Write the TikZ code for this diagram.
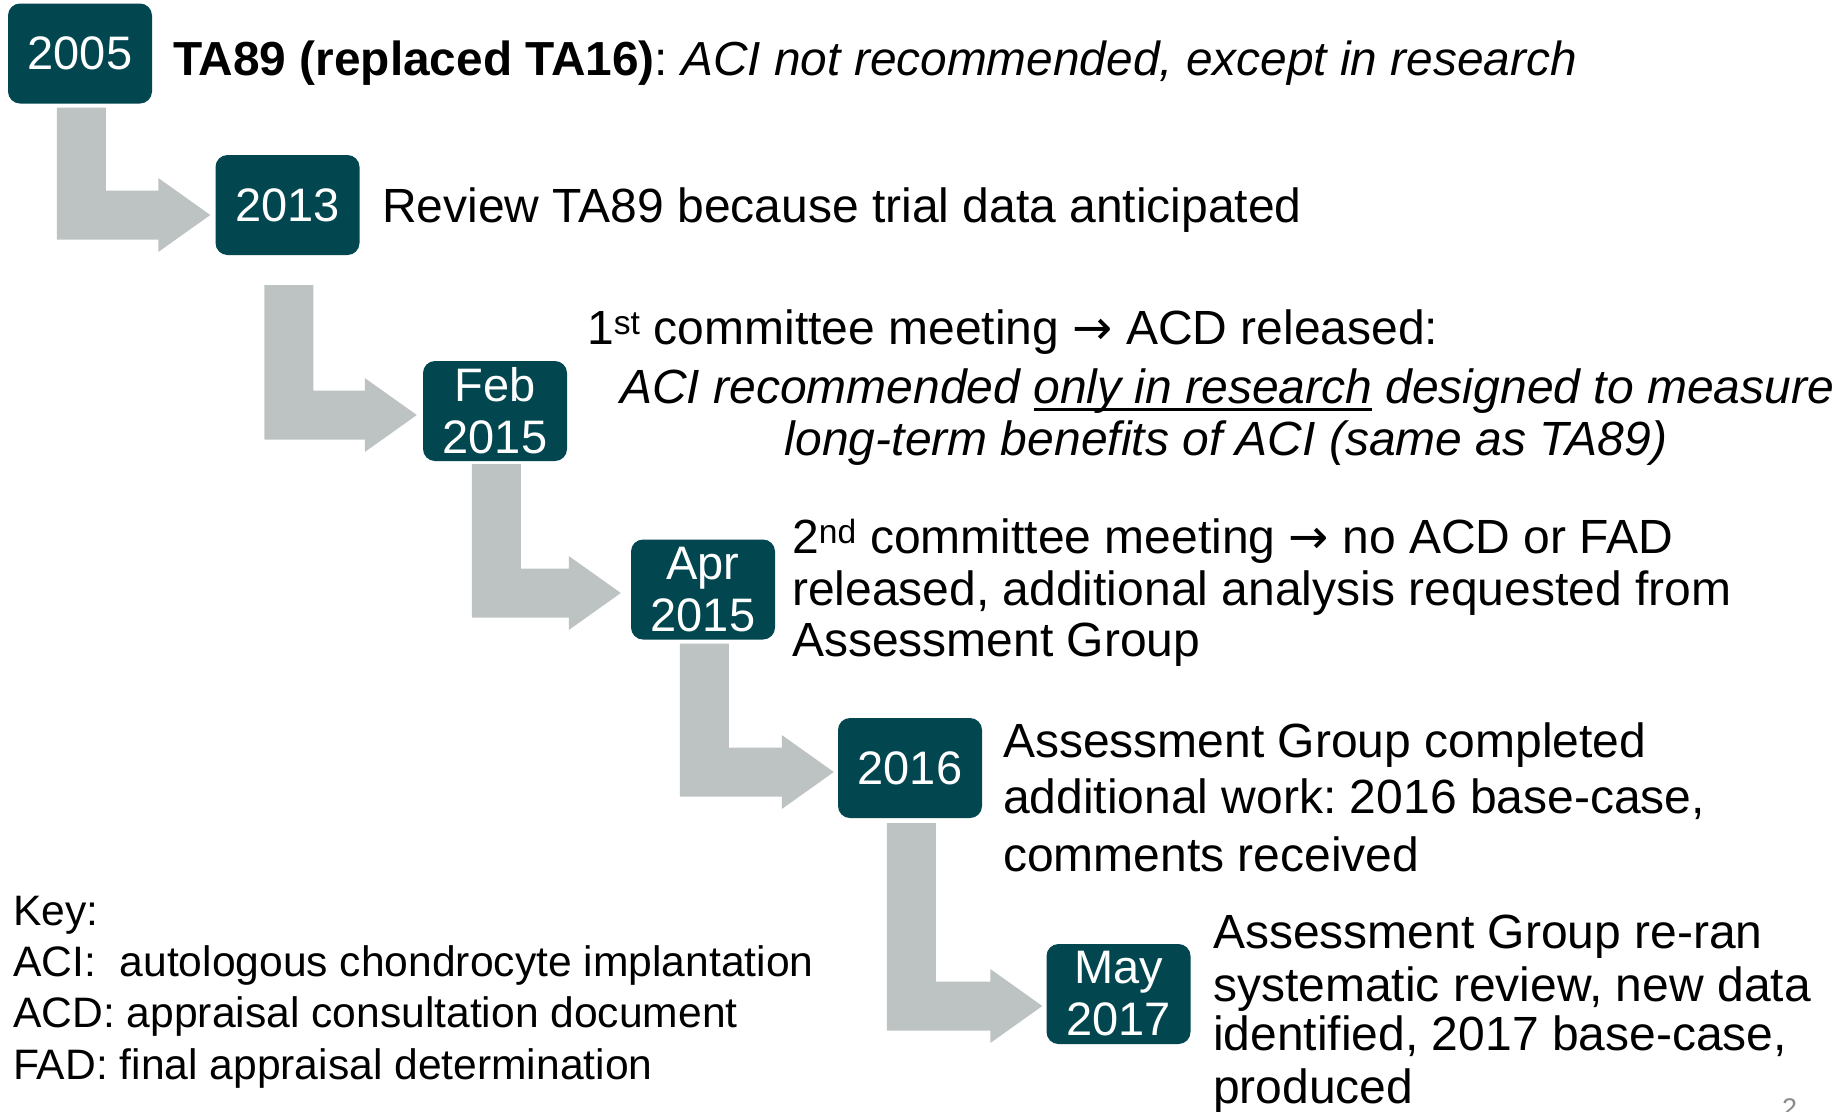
\documentclass[tikz,border=0pt]{standalone}
\usepackage{fontspec}
\setmainfont{Liberation Sans}
\newfontfamily\arrowfont{DejaVu Sans}
\usetikzlibrary{calc}
\frenchspacing

\definecolor{boxteal}{HTML}{02474F}
\definecolor{arrowgrey}{HTML}{BDC3C2}
\definecolor{pagegrey}{HTML}{8A8A8A}

% arrow sign used inside the event texts
\newcommand\thenarrow{{\arrowfont →}}
% underline with a heavier rule
\newcommand\thickul[1]{\setbox0\hbox{#1}\rlap{\rule[-8pt]{\wd0}{2.8pt}}\box0\relax}

\tikzset{
  datebox/.style={fill=boxteal, rounded corners=12pt, minimum width=144pt,
    minimum height=100pt, inner sep=0pt, text=white, align=center,
    font=\fontsize{47}{52}\selectfont},
  bodytext/.style={anchor=base west, inner sep=0pt,
    font=\fontsize{48}{52}\selectfont},
  keytext/.style={anchor=base west, inner sep=0pt,
    font=\fontsize{42.6}{51}\selectfont},
}

% Bent block arrow: #1 source box, #2 target box, #3 gap below source,
% #4 drop of the tip below the target's centre line, #5 gap before target
\newcommand\steparrow[5]{%
  \fill[arrowgrey] let \p1=(#1.south west), \p2=(#2.west) in
    (\x1+49pt,\y1-#3pt) -- (\x1+98pt,\y1-#3pt)
    -- (\x1+98pt,\y2-#4pt+24.5pt) -- (\x2-#5pt-52pt,\y2-#4pt+24.5pt)
    -- (\x2-#5pt-52pt,\y2-#4pt+37pt) -- (\x2-#5pt,\y2-#4pt)
    -- (\x2-#5pt-52pt,\y2-#4pt-37pt) -- (\x2-#5pt-52pt,\y2-#4pt-24.5pt)
    -- (\x1+49pt,\y2-#4pt-24.5pt) -- cycle;}

\begin{document}
\begin{tikzpicture}[x=1pt,y=-1pt]
  \useasboundingbox (0,0) rectangle (1846,1111);

  % date boxes
  \node[datebox] (b2005) at (80,53.5)    {2005};
  \node[datebox] (b2013) at (287.5,205)  {2013};
  \node[datebox] (bfeb)  at (495,411)    {Feb\\2015};
  \node[datebox] (bapr)  at (703,589.5)  {Apr\\2015};
  \node[datebox] (b2016) at (910,768)    {2016};
  \node[datebox] (bmay)  at (1118.5,994) {May\\2017};

  % step arrows between consecutive dates
  \steparrow{b2005}{b2013}{4}{10}{5}
  \steparrow{b2013}{bfeb}{30}{4}{6}
  \steparrow{bfeb}{bapr}{3}{3.5}{10}
  \steparrow{bapr}{b2016}{4}{4}{4}
  \steparrow{b2016}{bmay}{5}{12}{4}

  % event descriptions
  \node[bodytext, font=\fontsize{47.8}{52}\selectfont] (t1) at (173,75)
    {\textbf{TA89 (replaced TA16)}: \textit{ACI not recommended, except in research}};
  \node[bodytext] (t2) at (382,222) {Review TA89 because trial data anticipated};

  \node[bodytext] (t3a) at (587,344)
    {1\textsuperscript{st} committee meeting \thenarrow{} ACD released:};
  \node[bodytext, anchor=base] (t3b) at (1227,403)
    {\textit{ACI recommended \thickul{only in research} designed to measure}};
  \node[bodytext, anchor=base] (t3c) at (1226,455)
    {\textit{long-term benefits of ACI (same as TA89)}};

  \node[bodytext] (t4a) at (792,553)
    {2\textsuperscript{nd} committee meeting \thenarrow{} no ACD or FAD};
  \node[bodytext] (t4b) at (792,605) {released, additional analysis requested from};
  \node[bodytext] (t4c) at (792,656) {Assessment Group};

  \node[bodytext] (t5a) at (1003,757) {Assessment Group completed};
  \node[bodytext] (t5b) at (1003,813) {additional work: 2016 base-case,};
  \node[bodytext] (t5c) at (1003,871) {comments received};

  \node[bodytext] (t6a) at (1213,948)  {Assessment Group re-ran};
  \node[bodytext] (t6b) at (1213,1001) {systematic review, new data};
  \node[bodytext] (t6c) at (1213,1050) {identified, 2017 base-case,};
  \node[bodytext] (t6d) at (1213,1103) {produced};

  % abbreviations
  \node[keytext] (k0) at (13,925)  {Key:};
  \node[keytext] (k1) at (13,976)  {ACI:\ \ autologous chondrocyte implantation};
  \node[keytext] (k2) at (13,1027) {ACD: appraisal consultation document};
  \node[keytext] (k3) at (13,1079) {FAD: final appraisal determination};

  % slide number
  \node[anchor=base west, inner sep=0pt, text=pagegrey,
        font=\fontsize{27}{30}\selectfont] (pg) at (1782,1117) {2};
\end{tikzpicture}
\end{document}
